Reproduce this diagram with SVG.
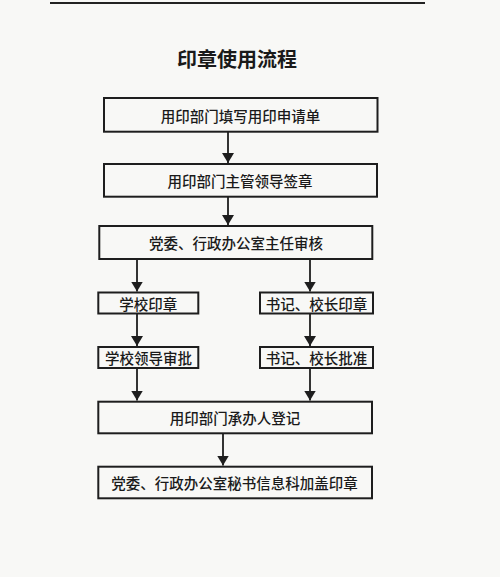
<svg xmlns="http://www.w3.org/2000/svg" width="500" height="577" viewBox="0 0 500 577">
<defs>
<style>
.box{fill:none;stroke:#1e1e1e;stroke-width:2}
.t{font-family:"Noto Sans CJK SC","Noto Sans CJK JP",sans-serif;font-size:14.5px;font-weight:500;fill:#1a1a1a;text-anchor:middle;dominant-baseline:central}
.ln{stroke:#1e1e1e;stroke-width:1.8;fill:none}
</style>
<marker id="ah" viewBox="0 0 10 12" refX="10" refY="6" markerWidth="10" markerHeight="12" markerUnits="userSpaceOnUse" orient="auto">
<path d="M0,0 L10,6 L0,12 Z" fill="#1e1e1e"/>
</marker>
</defs>
<rect width="500" height="577" fill="#f8f8f6"/>
<line x1="50" y1="3" x2="425" y2="3" stroke="#222" stroke-width="2"/>
<text x="237" y="58" font-family="'Noto Sans CJK SC',sans-serif" font-size="20" font-weight="bold" fill="#1a1a1a" text-anchor="middle" dominant-baseline="central">印章使用流程</text>

<g id="connectors">
<line class="ln" x1="228" y1="132" x2="228" y2="163" marker-end="url(#ah)"/>
<line class="ln" x1="228" y1="197" x2="228" y2="225" marker-end="url(#ah)"/>
<line class="ln" x1="137" y1="259" x2="137" y2="291.5" marker-end="url(#ah)"/>
<line class="ln" x1="310" y1="259" x2="310" y2="291.5" marker-end="url(#ah)"/>
<line class="ln" x1="137" y1="314" x2="137" y2="346" marker-end="url(#ah)"/>
<line class="ln" x1="310" y1="314" x2="310" y2="346" marker-end="url(#ah)"/>
<line class="ln" x1="137" y1="368.5" x2="137" y2="400.5" marker-end="url(#ah)"/>
<line class="ln" x1="310" y1="368.5" x2="310" y2="400.5" marker-end="url(#ah)"/>
<line class="ln" x1="223" y1="434" x2="223" y2="465.5" marker-end="url(#ah)"/>
</g>

<g id="n1"><rect class="box" x="104" y="98" width="273.5" height="33.7"/><text class="t" x="240.5" y="115">用印部门填写用印申请单</text></g>
<g id="n2"><rect class="box" x="104" y="164" width="273" height="32.7"/><text class="t" x="240" y="180.5">用印部门主管领导签章</text></g>
<g id="n3"><rect class="box" x="99.3" y="226" width="273" height="33"/><text class="t" x="236" y="242.5">党委、行政办公室主任审核</text></g>
<g id="n4"><rect class="box" x="98.3" y="292.5" width="100" height="21"/><text class="t" x="148.3" y="303">学校印章</text></g>
<g id="n5"><rect class="box" x="260" y="292.5" width="113" height="21"/><text class="t" x="316.5" y="303">书记、校长印章</text></g>
<g id="n6"><rect class="box" x="98.3" y="347" width="100" height="21"/><text class="t" x="148.5" y="357.5">学校领导审批</text></g>
<g id="n7"><rect class="box" x="260" y="347" width="113" height="21"/><text class="t" x="316.5" y="357.5">书记、校长批准</text></g>
<g id="n8"><rect class="box" x="98.3" y="401.7" width="273.7" height="31.6"/><text class="t" x="235" y="417.5">用印部门承办人登记</text></g>
<g id="n9"><rect class="box" x="98.3" y="466.7" width="273.7" height="31.6"/><text class="t" x="234.5" y="482.5">党委、行政办公室秘书信息科加盖印章</text></g>
</svg>
